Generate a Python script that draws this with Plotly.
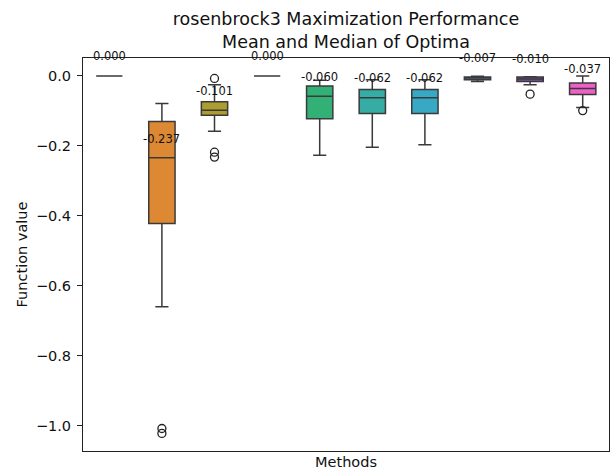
import plotly.graph_objects as go

# ---- data ----
positions = [0, 1, 2, 3, 4, 5, 6, 7, 8, 9]
q1_vals = [0.0, -0.422, -0.112, 0.0, -0.122, -0.107, -0.107, -0.011, -0.016, -0.053]
median_vals = [0.0, -0.234, -0.098, 0.0, -0.058, -0.062, -0.062, -0.006, -0.009, -0.036]
q3_vals = [0.0, -0.130, -0.074, 0.0, -0.029, -0.039, -0.039, -0.003, -0.003, -0.020]
lower_vals = [0.0, -0.660, -0.158, 0.0, -0.227, -0.204, -0.197, -0.016, -0.025, -0.090]
upper_vals = [0.0, -0.079, -0.025, 0.0, -0.012, -0.011, -0.011, -0.001, -0.002, 0.000]
mean_vals = [0.000, -0.237, -0.101, 0.000, -0.060, -0.062, -0.062, -0.007, -0.010, -0.037]
outlier_pos = [1, 1, 2, 2, 2, 8, 9]
outlier_vals = [-1.008, -1.022, -0.007, -0.218, -0.232, -0.052, -0.099]
colors = ["#f77189", "#dd8833", "#ad9d30", "#77ab31", "#33b075",
          "#36ada4", "#38a9c5", "#6e9bf4", "#7e4fa6", "#ee5fc8"]
ytick_vals = [0.0, -0.2, -0.4, -0.6, -0.8, -1.0]
ytick_text = ["0.0", "\u22120.2", "\u22120.4", "\u22120.6", "\u22120.8", "\u22121.0"]

FONT = "DejaVu Sans"
EDGE = "#3a3a3a"

fig = go.Figure()
for i in range(len(positions)):
    fig.add_trace(go.Box(
        x=[positions[i]],
        q1=[q1_vals[i]], median=[median_vals[i]], q3=[q3_vals[i]],
        lowerfence=[lower_vals[i]], upperfence=[upper_vals[i]],
        width=0.5, whiskerwidth=0.5,
        fillcolor=colors[i],
        line=dict(color=EDGE, width=1.5),
        boxpoints=False, showlegend=False, hoverinfo="skip",
    ))

fig.add_trace(go.Scatter(
    x=outlier_pos, y=outlier_vals, mode="markers",
    marker=dict(symbol="circle-open", size=8, color="#222",
                line=dict(width=1.3, color="#222")),
    showlegend=False, hoverinfo="skip",
))

for p, m in zip(positions, mean_vals):
    fig.add_annotation(
        x=p, y=m, xref="x", yref="y", text=f"{m:.3f}",
        showarrow=False, yshift=20, yanchor="middle",
        font=dict(family=FONT, size=11.5, color="#111"),
    )

fig.update_layout(
    width=611, height=470,
    margin=dict(l=83, r=2, t=58, b=19),
    paper_bgcolor="white", plot_bgcolor="white",
    font=dict(family=FONT, color="#111"),
    title=dict(
        text="rosenbrock3 Maximization Performance<br>Mean and Median of Optima",
        x=0.5, xref="paper", xanchor="center",
        y=1 - 25 / 470, yref="container", yanchor="top",
        font=dict(family=FONT, size=17.5, color="#111"),
    ),
    xaxis=dict(
        range=[-0.5, 9.5], showticklabels=False, ticks="",
        showgrid=False, zeroline=False,
        showline=True, mirror=True, linecolor="#222", linewidth=1,
        title=dict(text="Methods", standoff=7,
                   font=dict(family=FONT, size=14.5, color="#111")),
        automargin=False,
    ),
    yaxis=dict(
        range=[-1.0723, 0.0514],
        tickvals=ytick_vals, ticktext=ytick_text,
        ticks="outside", ticklen=5, tickcolor="#222", tickwidth=1,
        ticklabelstandoff=3,
        tickfont=dict(family=FONT, size=14.5, color="#111"),
        showgrid=False, zeroline=False,
        showline=True, mirror=True, linecolor="#222", linewidth=1,
        title=dict(text="Function value", standoff=4,
                   font=dict(family=FONT, size=14.5, color="#111")),
        automargin=False,
    ),
)

fig.write_html(
    "out.html",
    config={"displayModeBar": False},
    post_script="document.body.style.margin='0';document.body.style.padding='0';",
)
